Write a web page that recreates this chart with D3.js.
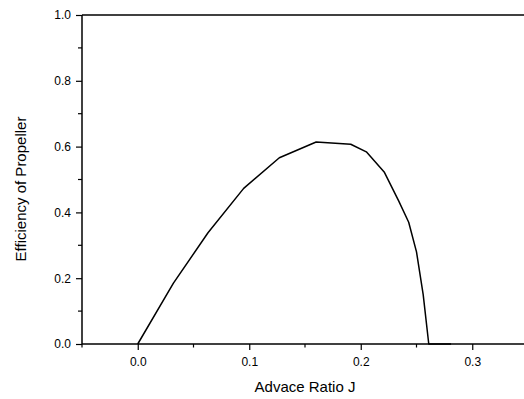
<!DOCTYPE html>
<html>
<head>
<meta charset="utf-8">
<script src="https://cdn.jsdelivr.net/npm/d3@7"></script>
<style>
  body { margin: 0; background: #fff; }
  svg { display: block; font-family: "Liberation Sans", Arial, sans-serif; }
</style>
</head>
<body>
<svg id="chart" width="524" height="399"></svg>
<script>
// advance ratio J vs propeller efficiency
var jValues   = [0, 0.032, 0.063, 0.095, 0.127, 0.160, 0.191, 0.205, 0.221, 0.234, 0.243, 0.250, 0.256, 0.261, 0.281];
var etaValues = [0, 0.185, 0.338, 0.473, 0.566, 0.614, 0.607, 0.584, 0.523, 0.435, 0.370, 0.280, 0.150, 0, 0];
var xTicks = [0.0, 0.1, 0.2, 0.3];
var xMinor = [-0.05, 0.05, 0.15, 0.25, 0.35];
var yTicks = [0.0, 0.2, 0.4, 0.6, 0.8, 1.0];
var yMinor = [0.1, 0.3, 0.5, 0.7, 0.9];

var svg = d3.select('#chart');
// (window.top is read only, so no "top" here)
var padL = 82, padR = 528, padT = 15, padB = 344;

var x = d3.scaleLinear().domain([-0.05, 0.35]).range([padL, padR]);
var y = d3.scaleLinear().domain([0, 1]).range([padB, padT]);

var pts = d3.zip(jValues, etaValues);
var fontFam = '"Liberation Sans", Arial, sans-serif';

// top frame line
svg.append('line')
  .attr('x1', padL).attr('x2', padR)
  .attr('y1', padT).attr('y2', padT)
  .attr('stroke', '#000').attr('stroke-width', 1.5);

// curve
svg.append('path')
  .datum(pts)
  .attr('fill', 'none')
  .attr('stroke', '#000')
  .attr('stroke-width', 1.5)
  .attr('stroke-linejoin', 'round')
  .attr('d', d3.line().x(function(d){ return x(d[0]); }).y(function(d){ return y(d[1]); }));

// bottom axis
var gx = svg.append('g').attr('transform', 'translate(0,' + padB + ')');
gx.call(d3.axisBottom(x).tickValues(xTicks).tickSize(6).tickPadding(7).tickFormat(d3.format('.1f')));
gx.selectAll('.tick line').attr('stroke-width', 1.2);
gx.selectAll('.tick text').attr('font-size', 12).attr('fill', '#000').attr('font-family', fontFam);
gx.select('.domain').attr('d', 'M' + padL + ',0H' + padR).attr('stroke-width', 1.5);
gx.selectAll('.minor').data(xMinor).enter().append('line')
  .attr('class', 'minor')
  .attr('x1', function(d){ return x(d); }).attr('x2', function(d){ return x(d); })
  .attr('y1', 0).attr('y2', 3.5)
  .attr('stroke', '#000').attr('stroke-width', 1.2);

// left axis
var gy = svg.append('g').attr('transform', 'translate(' + padL + ',0)');
gy.call(d3.axisLeft(y).tickValues(yTicks).tickSize(6).tickPadding(5).tickFormat(d3.format('.1f')));
gy.selectAll('.tick line').attr('stroke-width', 1.2);
gy.selectAll('.tick text').attr('font-size', 12).attr('fill', '#000').attr('font-family', fontFam);
gy.select('.domain').attr('d', 'M0,' + padB + 'V' + padT).attr('stroke-width', 1.5);
gy.selectAll('.minor').data(yMinor).enter().append('line')
  .attr('class', 'minor')
  .attr('y1', function(d){ return y(d); }).attr('y2', function(d){ return y(d); })
  .attr('x1', 0).attr('x2', -4)
  .attr('stroke', '#000').attr('stroke-width', 1.2);

// titles
svg.append('text')
  .attr('x', (padL + padR) / 2).attr('y', 392)
  .attr('text-anchor', 'middle')
  .attr('font-size', 15)
  .attr('font-family', fontFam)
  .text('Advace Ratio J');

svg.append('text')
  .attr('transform', 'translate(26,189) rotate(-90)')
  .attr('text-anchor', 'middle')
  .attr('font-size', 15)
  .attr('font-family', fontFam)
  .text('Efficiency of Propeller');
</script>
</body>
</html>
